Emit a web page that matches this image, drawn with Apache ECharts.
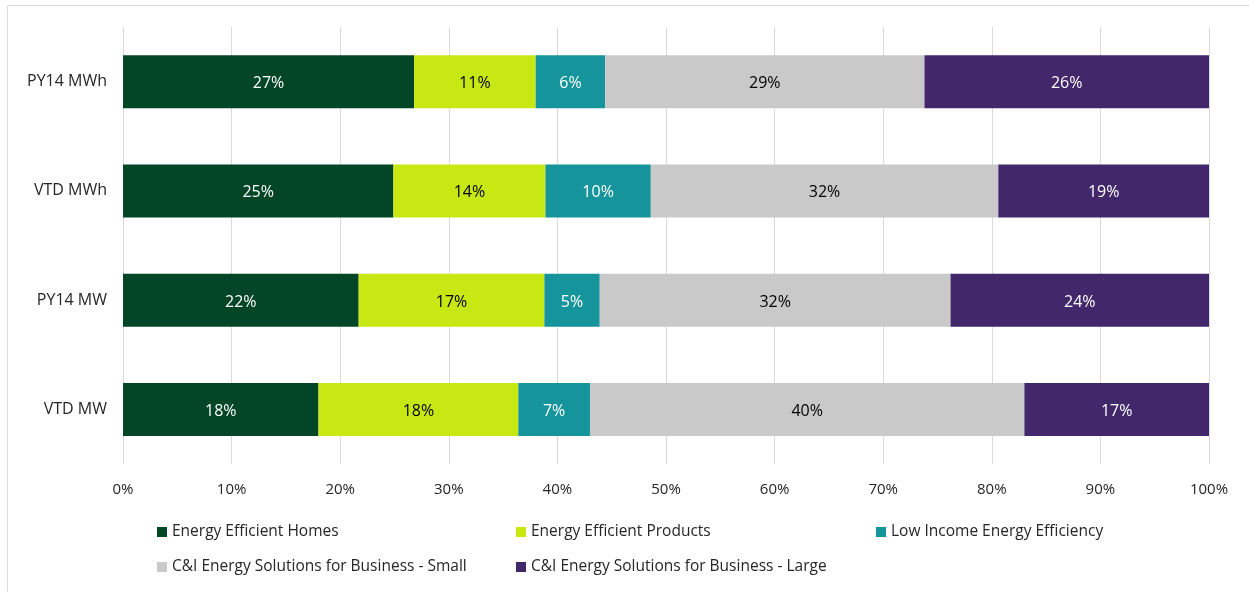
<!DOCTYPE html>
<html lang="en">
<head>
    <meta charset="UTF-8">
    <title>Savings Share by Program</title>
    <script src="https://cdn.jsdelivr.net/npm/echarts@6/dist/echarts.min.js"></script>
    <style>
        html, body { margin: 0; padding: 0; background: #fff; }
    </style>
</head>
<body>
    <div id="chart" style="width: 1249px; height: 592px;"></div>
    <script>
        // categories, bottom to top (ECharts draws the first category at the bottom)
        const categories = ['VTD MW', 'PY14 MW', 'VTD MWh', 'PY14 MWh'];

        const seriesNames = [
            'Energy Efficient Homes',
            'Energy Efficient Products',
            'Low Income Energy Efficiency',
            'C&I Energy Solutions for Business - Small',
            'C&I Energy Solutions for Business - Large'
        ];

        // shares in percent, same order as categories
        const homes    = [18.0, 21.7, 24.9, 26.8];
        const products = [18.4, 17.1, 14.0, 11.2];
        const lowIncome = [6.6, 5.1, 9.7, 6.4];
        const ciSmall  = [40.0, 32.3, 32.0, 29.4];
        const ciLarge  = [17.0, 23.8, 19.4, 26.2];

        const xTicks = [0, 10, 20, 30, 40, 50, 60, 70, 80, 90, 100];

        const colors = ['#034627', '#c8e813', '#16949b', '#c9c9c9', '#42276a'];
        const labelColors = ['#ffffff', '#000000', '#ffffff', '#000000', '#ffffff'];
        const values = [homes, products, lowIncome, ciSmall, ciLarge];

        const font = 'Open Sans, Noto Sans, sans-serif';

        let myChart = echarts.init(document.getElementById('chart'));

        let series = seriesNames.map(function (name, i) {
            return {
                name: name,
                type: 'bar',
                stack: 'total',
                barWidth: 53,
                data: values[i],
                itemStyle: { color: colors[i] },
                label: {
                    show: true,
                    position: 'inside',
                    offset: [0, 2],
                    color: labelColors[i],
                    fontFamily: font,
                    fontSize: 16,
                    formatter: function (p) {
                        return Math.round(p.value) + '%';
                    }
                }
            };
        });

        // legend laid out like the original: three columns, two rows
        const legendPos = [[152, 519], [511, 519], [871, 519], [152, 554], [511, 554]];
        let legends = seriesNames.map(function (name, i) {
            return {
                left: legendPos[i][0],
                top: legendPos[i][1],
                itemWidth: 10,
                itemHeight: 10,
                icon: 'rect',
                textStyle: {
                    color: '#262626',
                    fontFamily: font,
                    fontSize: 15.5
                },
                data: [name]
            };
        });

        let option = {
            animation: false,
            color: colors,
            grid: {
                left: 123,
                right: 40,
                top: 27,
                bottom: 128
            },
            graphic: [{
                type: 'rect',
                shape: { x: 7.5, y: 5.5, width: 1260, height: 600 },
                style: { fill: 'none', stroke: '#d9d9d9', lineWidth: 1 },
                silent: true
            }],
            legend: legends,
            xAxis: {
                type: 'value',
                min: 0,
                max: 100,
                interval: 10,
                axisLine: { show: false },
                axisTick: { show: false },
                splitLine: { lineStyle: { color: '#d9d9d9', width: 1 } },
                axisLabel: {
                    margin: 18,
                    color: '#262626',
                    fontFamily: font,
                    fontSize: 15,
                    formatter: function (v) {
                        return xTicks.indexOf(v) >= 0 ? v + '%' : '';
                    }
                }
            },
            yAxis: {
                type: 'category',
                data: categories,
                axisLine: { show: false },
                axisTick: { show: false },
                axisLabel: {
                    margin: 16,
                    color: '#262626',
                    fontFamily: font,
                    fontSize: 16
                }
            },
            series: series
        };

        myChart.setOption(option);
    </script>
</body>
</html>
